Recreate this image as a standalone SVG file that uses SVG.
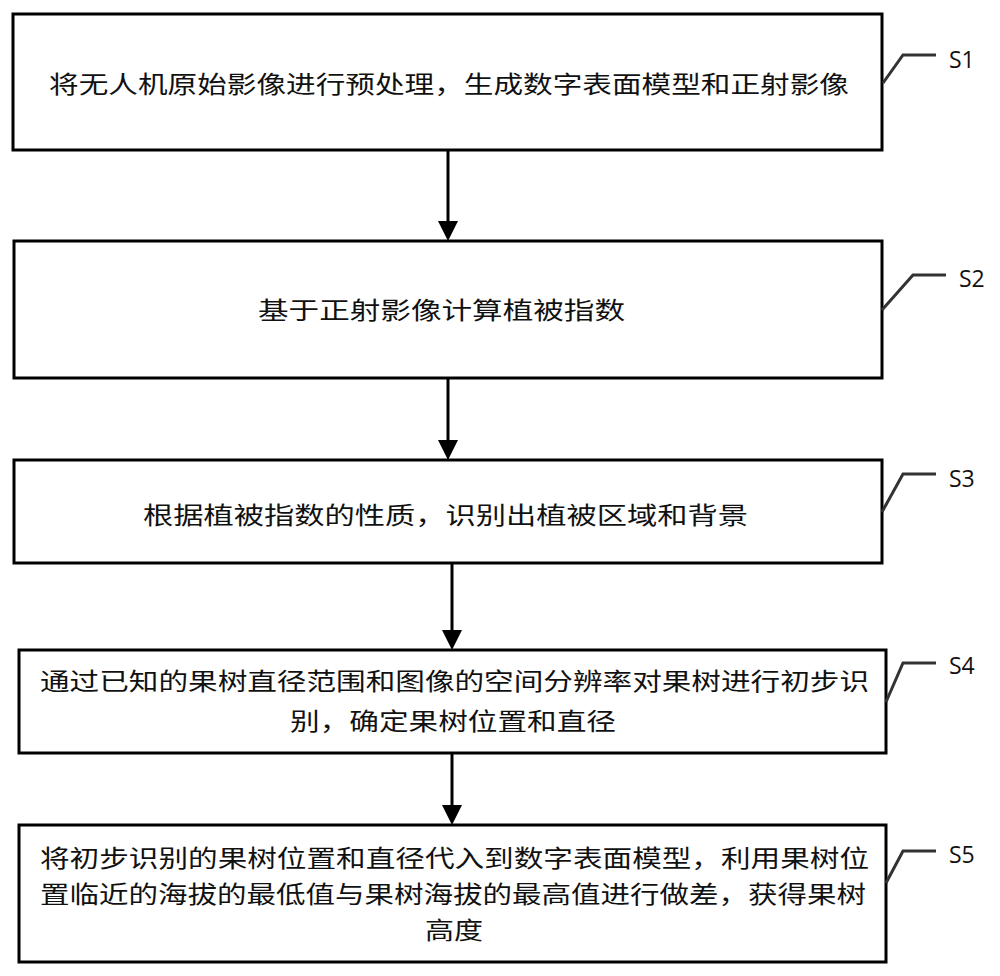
<svg xmlns="http://www.w3.org/2000/svg" width="1000" height="976" viewBox="0 0 1000 976">
<defs>
<style>
.box{fill:#fff;stroke:#000;stroke-width:3}
.t{font-family:"Noto Sans CJK SC","Noto Sans",sans-serif;font-size:24px;fill:#111}
.lbl{font-family:"Open Sans","Liberation Sans",sans-serif;font-size:23px;fill:#111}
.lead{fill:none;stroke:#333;stroke-width:3}
.conn{stroke:#000;stroke-width:3;fill:none}
.head{fill:#000}
</style>
</defs>
<rect width="1000" height="976" fill="#fff"/>
<g id="connectors">
<line class="conn" x1="448" y1="150" x2="448" y2="222"/>
<path class="head" d="M438,221 L458,221 L448,241 Z"/>
<line class="conn" x1="448" y1="378" x2="448" y2="441"/>
<path class="head" d="M438,440 L458,440 L448,460 Z"/>
<line class="conn" x1="452" y1="563" x2="452" y2="631"/>
<path class="head" d="M442,630 L462,630 L452,650 Z"/>
<line class="conn" x1="452" y1="753" x2="452" y2="806"/>
<path class="head" d="M442,805 L462,805 L452,825 Z"/>
</g>
<g id="S1">
<rect class="box" x="13" y="14" width="869" height="136"/>
<text class="t" x="49" y="93" textLength="800" lengthAdjust="spacingAndGlyphs">将无人机原始影像进行预处理，生成数字表面模型和正射影像</text>
<polyline class="lead" points="883,83 903,55 936,55"/>
<text class="lbl" x="949" y="68">S1</text>
</g>
<g id="S2">
<rect class="box" x="14" y="241" width="868" height="137"/>
<text class="t" x="258" y="319" textLength="367" lengthAdjust="spacingAndGlyphs">基于正射影像计算植被指数</text>
<polyline class="lead" points="882,310 913,275 946,275"/>
<text class="lbl" x="959" y="287">S2</text>
</g>
<g id="S3">
<rect class="box" x="14" y="460" width="868" height="103"/>
<text class="t" x="143" y="524" textLength="605" lengthAdjust="spacingAndGlyphs">根据植被指数的性质，识别出植被区域和背景</text>
<polyline class="lead" points="882,512 903,474 936,474"/>
<text class="lbl" x="949" y="487">S3</text>
</g>
<g id="S4">
<rect class="box" x="19" y="650" width="867" height="103"/>
<text class="t" x="40" y="690" textLength="829" lengthAdjust="spacingAndGlyphs">通过已知的果树直径范围和图像的空间分辨率对果树进行初步识</text>
<text class="t" x="290" y="730" textLength="326" lengthAdjust="spacingAndGlyphs">别，确定果树位置和直径</text>
<polyline class="lead" points="886,702 903,663 936,663"/>
<text class="lbl" x="949" y="674">S4</text>
</g>
<g id="S5">
<rect class="box" x="19" y="825" width="867" height="137"/>
<text class="t" x="40" y="867" textLength="829" lengthAdjust="spacingAndGlyphs">将初步识别的果树位置和直径代入到数字表面模型，利用果树位</text>
<text class="t" x="40" y="903" textLength="826" lengthAdjust="spacingAndGlyphs">置临近的海拔的最低值与果树海拔的最高值进行做差，获得果树</text>
<text class="t" x="425" y="939" textLength="58" lengthAdjust="spacingAndGlyphs">高度</text>
<polyline class="lead" points="886,883 903,851 936,851"/>
<text class="lbl" x="949" y="863">S5</text>
</g>
</svg>
